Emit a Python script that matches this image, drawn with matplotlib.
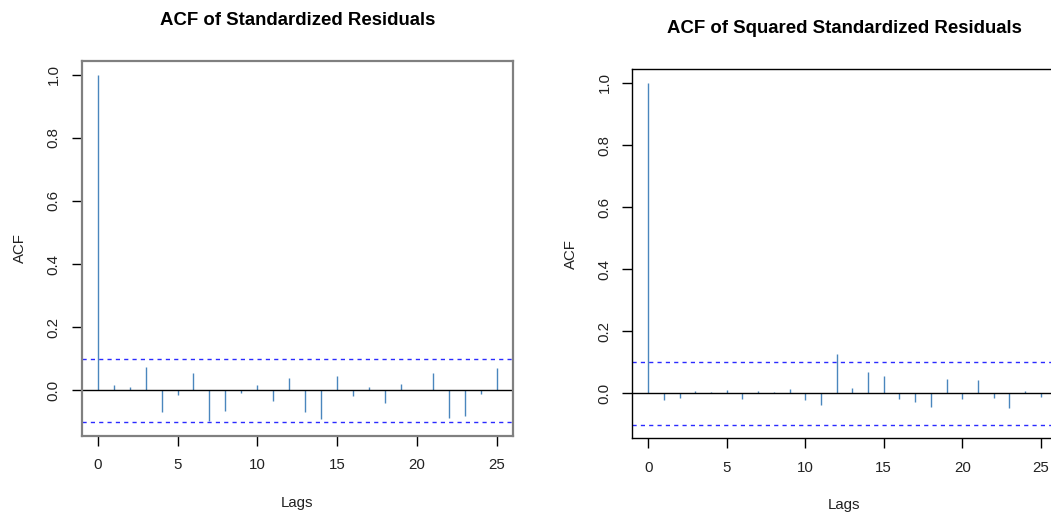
import numpy as np
import matplotlib
matplotlib.use('Agg')
import matplotlib.pyplot as plt

plt.rcParams['font.family'] = ['Liberation Sans', 'DejaVu Sans']

# lags 0..25
lags = np.arange(26)
acf_resid = [1.0, 0.018, 0.012, 0.073, -0.069, -0.014, 0.054, -0.097, -0.066, -0.008,
             0.017, -0.033, 0.038, -0.069, -0.091, 0.044, -0.017, 0.012, -0.041, 0.020,
             0.002, 0.054, -0.088, -0.081, -0.011, 0.070]
acf_sq_resid = [1.0, -0.022, -0.015, 0.008, 0.004, 0.011, -0.018, 0.008, 0.004, 0.013,
                -0.022, -0.037, 0.128, 0.017, 0.069, 0.056, -0.018, -0.027, -0.043, 0.046,
                -0.018, 0.043, -0.015, -0.046, 0.008, -0.012]
conf_band = 0.1005

titles = ['ACF of Standardized Residuals', 'ACF of Squared Standardized Residuals']

fig = plt.figure(figsize=(10.51, 5.12), dpi=100)
ax1 = fig.add_axes([0.0777, 0.1484, 0.4104, 0.7330])
ax2 = fig.add_axes([0.6018, 0.1439, 0.4034, 0.7207])

panels = [(ax1, acf_resid, '#808080', 1.6), (ax2, acf_sq_resid, 'black', 1.0)]
for (ax, vals, frame_col, frame_lw), title in zip(panels, titles):
    ax.vlines(lags, 0, vals, color='#4a86bd', lw=1.0)
    ax.axhline(0, color='black', lw=1.0)
    for c in (conf_band, -conf_band):
        ax.axhline(c, color='#2b2bff', lw=1.0, dashes=(3, 3))
    ax.set_xlim(-1, 26)
    ax.set_ylim(-0.1446, 1.044)
    ax.set_xticks([0, 5, 10, 15, 20, 25])
    ax.set_yticks([0.0, 0.2, 0.4, 0.6, 0.8, 1.0])
    ax.set_yticklabels(['0.0', '0.2', '0.4', '0.6', '0.8', '1.0'], rotation=90, va='center')
    ax.tick_params(length=7, width=1, labelsize=10.8, color='black', labelcolor='#222222')
    ax.tick_params(axis='y', pad=8)
    ax.tick_params(axis='x', pad=9)
    for sp in ax.spines.values():
        sp.set_color(frame_col)
        sp.set_linewidth(frame_lw)
    ax.set_xlabel('Lags', fontsize=10.8, labelpad=17, color='#222222')
    ax.set_ylabel('ACF', fontsize=10.8, labelpad=14, color='#222222')
    ax.set_title(title, fontsize=13.4, fontweight='bold', pad=26)

fig.savefig('out.png', dpi=100)
